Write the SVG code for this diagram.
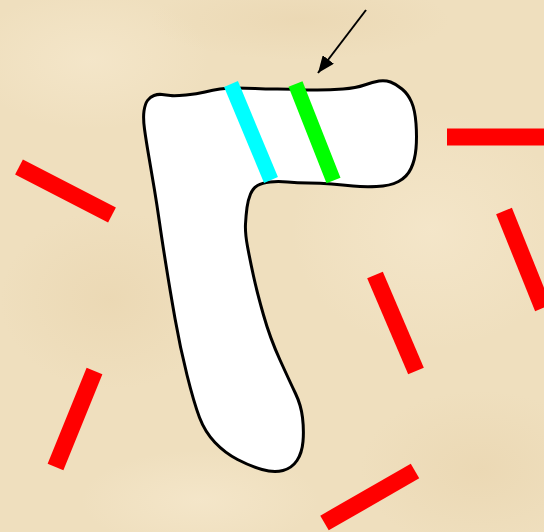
<svg xmlns="http://www.w3.org/2000/svg" width="544" height="532" viewBox="0 0 544 532">
  <defs>
    <marker id="ah" markerWidth="17" markerHeight="14" refX="17" refY="7" orient="auto" markerUnits="userSpaceOnUse">
      <path d="M0,0 L17,7 L0,14 z" fill="#000"/>
    </marker>
    <radialGradient id="blot" cx="50%" cy="50%" r="50%">
      <stop offset="0" stop-color="#E6CFA6" stop-opacity="0.4"/>
      <stop offset="1" stop-color="#E6CFA6" stop-opacity="0"/>
    </radialGradient>
    <radialGradient id="light" cx="50%" cy="50%" r="50%">
      <stop offset="0" stop-color="#F7EAD0" stop-opacity="0.6"/>
      <stop offset="1" stop-color="#F7EAD0" stop-opacity="0"/>
    </radialGradient>
  </defs>
  <style>
    .bar { stroke: #FF0000; stroke-width: 17; stroke-linecap: butt; fill: none; }
    .band { stroke-width: 15; stroke-linecap: butt; fill: none; }
    .shape { fill: #FFFFFF; stroke: #000000; stroke-width: 3; stroke-linejoin: round; }
  </style>

  <g id="background">
    <rect x="0" y="0" width="544" height="532" fill="#EFDFBE"/>
    <ellipse cx="90" cy="60" rx="120" ry="70" fill="url(#light)"/>
    <ellipse cx="430" cy="230" rx="140" ry="120" fill="url(#light)"/>
    <ellipse cx="110" cy="300" rx="110" ry="90" fill="url(#blot)"/>
    <ellipse cx="300" cy="20" rx="150" ry="40" fill="url(#blot)"/>
    <ellipse cx="480" cy="470" rx="120" ry="80" fill="url(#blot)"/>
    <ellipse cx="200" cy="500" rx="120" ry="50" fill="url(#light)"/>
  </g>

  <g id="hook-shape">
    <path class="shape" d="M144,111 Q145,104 147.5,100.5 Q150,97 154,95.5 Q158,94 162,94.5 Q166,95 170.5,95.5 Q175,96 186,95 Q197,94 205,92 Q213,90 220,89 Q227,88 236,88 Q245,88 255,88.5 Q265,89 277.5,89 Q290,89 297.5,89.5 Q305,90 317.5,90 Q330,90 343,89 Q356,88 364.5,85 Q373,82 379,81 Q385,80 390.5,82 Q396,84 402,89 Q408,94 411.5,102 Q415,110 416,123.5 Q417,137 416,148.5 Q415,160 411,168.5 Q407,177 398.5,181.5 Q390,186 376.5,186.5 Q363,187 353,186 Q343,185 331.5,184 Q320,183 308.5,183 Q297,183 287.5,182 Q278,181 270,182 Q262,183 257.5,185.5 Q253,188 250.5,194 Q248,200 247,207.5 Q246,215 245.5,224 Q245,233 247.5,246.5 Q250,260 253.5,276 Q257,292 263.5,315 Q270,338 280,360 Q290,382 295.5,393.5 Q301,405 302.5,417.5 Q304,430 303,441.5 Q302,453 297,460.5 Q292,468 283,470.5 Q274,473 262,469.5 Q250,466 237.5,459.5 Q225,453 215,442.5 Q205,432 199.5,417.5 Q194,403 187,375 Q180,347 175,318.5 Q170,290 166,265 Q162,240 159.5,222.5 Q157,205 154.5,190 Q152,175 149,157.5 Q146,140 144.5,129 Q143,118 144,111 Z"/>
  </g>

  <g id="cyan-band">
    <line class="band" x1="231" y1="84" x2="271" y2="180" stroke="#00FFFF"/>
  </g>
  <g id="green-band">
    <line class="band" x1="295.5" y1="84" x2="333.5" y2="180.5" stroke="#00FF00"/>
  </g>

  <g id="red-bar-1"><line class="bar" x1="447" y1="137" x2="546" y2="137"/></g>
  <g id="red-bar-2"><line class="bar" x1="504" y1="211" x2="543" y2="308"/></g>
  <g id="red-bar-3"><line class="bar" x1="375" y1="275" x2="416" y2="371"/></g>
  <g id="red-bar-4"><line class="bar" x1="19" y1="167" x2="112" y2="215"/></g>
  <g id="red-bar-5"><line class="bar" x1="94.5" y1="371" x2="55.5" y2="467"/></g>
  <g id="red-bar-6"><line class="bar" x1="324.5" y1="523" x2="415" y2="471"/></g>

  <g id="connectors">
    <line x1="366" y1="10" x2="318" y2="73" stroke="#000" stroke-width="2" marker-end="url(#ah)"/>
  </g>
</svg>
